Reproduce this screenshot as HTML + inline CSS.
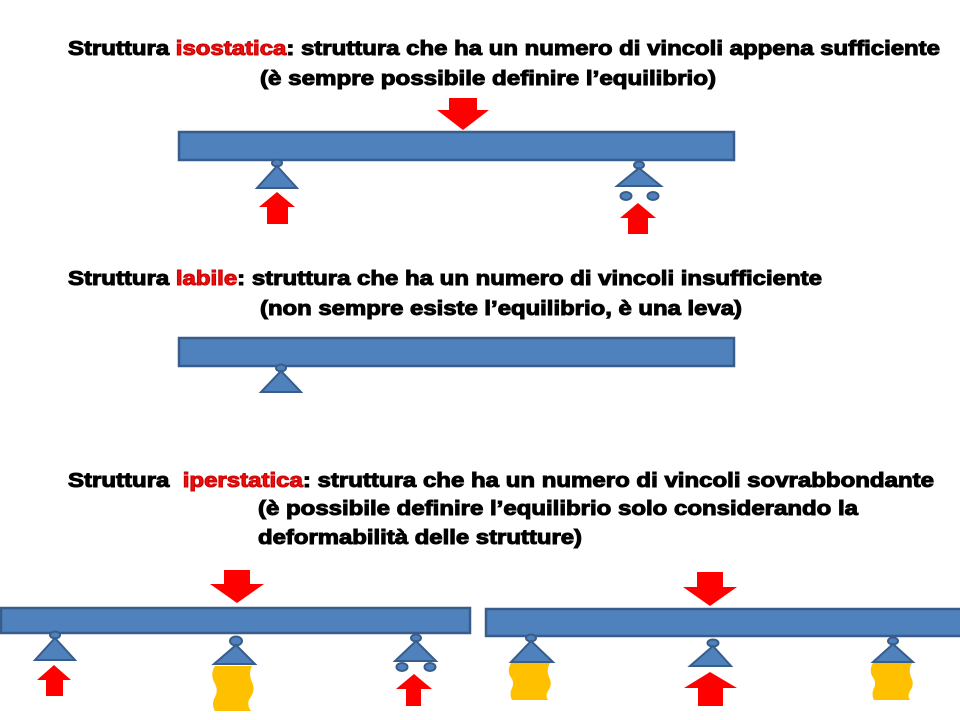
<!DOCTYPE html>
<html><head><meta charset="utf-8"><style>
html,body{margin:0;padding:0;background:#fff;}
svg{display:block;}
text{font-family:"Liberation Sans",Arial,sans-serif;font-weight:bold;font-size:20px;fill:#000;stroke:#000;stroke-width:1px;}
.r{fill:#e81010;stroke:#c00;}
.b{fill:#4f81bd;stroke:#385d8a;stroke-width:2.5;}
.p{fill:#4f81bd;stroke:#385d8a;stroke-width:2;}
.a{fill:#ff0000;}
.y{fill:#ffc000;}
</style></head><body>
<svg width="960" height="720" viewBox="0 0 960 720" xmlns="http://www.w3.org/2000/svg">
<text x="68" y="55" textLength="872" lengthAdjust="spacingAndGlyphs">Struttura <tspan class="r">isostatica</tspan>: struttura che ha un numero di vincoli appena sufficiente</text>
<text x="260" y="85" textLength="456" lengthAdjust="spacingAndGlyphs">(è sempre possibile definire l’equilibrio)</text>
<text x="68" y="285" textLength="754" lengthAdjust="spacingAndGlyphs">Struttura <tspan class="r">labile</tspan>: struttura che ha un numero di vincoli insufficiente</text>
<text x="260" y="315" textLength="482" lengthAdjust="spacingAndGlyphs">(non sempre esiste l’equilibrio, è una leva)</text>
<text x="68" y="487" textLength="866" lengthAdjust="spacingAndGlyphs" xml:space="preserve">Struttura  <tspan class="r">iperstatica</tspan>: struttura che ha un numero di vincoli sovrabbondante</text>
<text x="258" y="515" textLength="600" lengthAdjust="spacingAndGlyphs">(è possibile definire l’equilibrio solo considerando la</text>
<text x="258" y="544" textLength="324" lengthAdjust="spacingAndGlyphs">deformabilità delle strutture)</text>

<polygon class="a" points="449,98 477,98 477,110 489,110 463,130 437,110 449,110"/>
<rect class="b" x="179" y="132" width="555" height="28"/>
<ellipse class="p" cx="277" cy="163" rx="5" ry="3.5"/>
<polygon class="p" points="277,166 297,188 257,188"/>
<polygon class="a" points="277,192 295,207 288,207 288,224 267,224 267,207 259,207"/>
<ellipse class="p" cx="639" cy="165" rx="5" ry="3.5"/>
<polygon class="p" points="639,168 661,186 617,186"/>
<ellipse class="p" cx="626" cy="196" rx="5.5" ry="4"/>
<ellipse class="p" cx="653" cy="196" rx="5.5" ry="4"/>
<polygon class="a" points="638,203 656,218 648,218 648,234 628,234 628,218 620,218"/>

<rect class="b" x="179" y="338" width="555" height="28"/>
<ellipse class="p" cx="281" cy="368" rx="5" ry="3.5"/>
<polygon class="p" points="281,371 301,392 261,392"/>

<polygon class="a" points="224,570 250,570 250,584 264,584 237,603 210,584 224,584"/>
<rect class="b" x="1" y="608" width="469" height="25"/>
<ellipse class="p" cx="55" cy="635" rx="5" ry="3.5"/>
<polygon class="p" points="55,638 75,660 35,660"/>
<polygon class="a" points="54,665 71,680 63,680 63,696 46,696 46,680 37,680"/>
<ellipse class="p" cx="236" cy="641" rx="6" ry="4.5"/>
<polygon class="p" points="236,645 255,664 214,664"/>
<path class="y" d="M215,666 L252,666 Q248,674 252,682 Q256,690 250,698 Q246,704 251,711 L215,711 Q211,704 215,697 Q219,690 214,682 Q210,674 215,666 Z"/>
<ellipse class="p" cx="416" cy="638" rx="5" ry="3.5"/>
<polygon class="p" points="416,641 436,661 395,661"/>
<ellipse class="p" cx="402" cy="667" rx="5.5" ry="4"/>
<ellipse class="p" cx="430" cy="667" rx="5.5" ry="4"/>
<polygon class="a" points="414,674 432,689 421,689 421,706 406,706 406,689 396,689"/>

<polygon class="a" points="697,572 723,572 723,587 737,587 710,606 683,587 697,587"/>
<rect class="b" x="486" y="609" width="476" height="27"/>
<ellipse class="p" cx="531" cy="638" rx="5" ry="3.5"/>
<polygon class="p" points="531,641 553,662 511,662"/>
<path class="y" d="M511,663 L550,663 Q546,670 549,677 Q553,684 548,691 Q545,696 548,700 L512,700 Q509,694 512,688 Q515,682 510,676 Q507,670 511,663 Z"/>
<ellipse class="p" cx="713" cy="643" rx="5.5" ry="3.5"/>
<polygon class="p" points="713,646 731,666 690,666"/>
<polygon class="a" points="710,672 737,688 723,688 723,706 698,706 698,688 684,688"/>
<ellipse class="p" cx="893" cy="641" rx="5" ry="3.5"/>
<polygon class="p" points="893,644 913,662 873,662"/>
<path class="y" d="M873,663 L912,663 Q908,670 911,677 Q915,684 910,691 Q907,696 910,700 L874,700 Q871,694 874,688 Q877,682 872,676 Q869,670 873,663 Z"/>
</svg>
</body></html>
